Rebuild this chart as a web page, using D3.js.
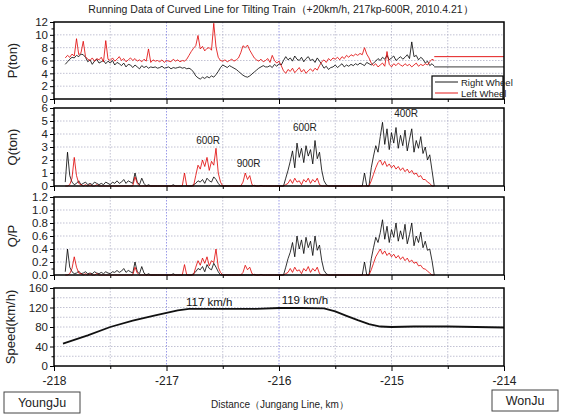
<!DOCTYPE html>
<html lang="en">
<head>
<meta charset="UTF-8">
<title>Running Data of Curved Line for Tilting Train</title>
<script src="https://d3js.org/d3.v7.min.js"></script>
<style>
  body { margin: 0; background: #fff; }
  svg { font-family: "Liberation Sans", Arial, sans-serif; }
  .grid line { stroke: #a8a8c0; stroke-width: 0.7; stroke-dasharray: 1.5 1.5; }
</style>
</head>
<body>
<div id="chart"></div>
<script>
// distance samples: start km and step (km)
const X0 = -217.9;
const STEP = 0.02;

// P(ton)
const pRight = [
  5.4,5.8,6.2,6.5,6.4,6.8,6.6,7.0,6.9,6.5,
  5.8,6.1,5.4,5.9,6.2,5.6,5.8,6.0,5.5,5.9,
  5.6,6.0,5.3,5.7,5.5,5.2,5.6,5.0,5.4,5.3,
  4.9,5.3,5.0,4.7,5.2,4.9,5.1,4.8,5.0,4.9,
  5.0,4.8,4.9,5.1,4.8,4.9,5.0,4.7,4.9,4.8,
  4.9,5.0,4.8,4.9,4.7,4.8,4.6,4.2,3.6,3.3,
  3.1,3.4,3.2,3.5,3.3,3.6,3.4,3.8,4.3,4.9,
  5.3,5.1,4.9,5.2,5.0,4.8,4.6,4.3,4.0,3.7,
  3.5,3.4,3.6,3.9,4.2,4.5,4.8,5.0,5.2,5.0,
  5.0,5.2,4.9,5.4,5.1,5.5,5.3,6.0,6.6,6.1,
  6.4,5.9,6.7,6.2,6.0,6.5,5.8,6.3,6.6,6.0,
  6.2,5.7,6.4,5.9,5.4,4.8,5.1,4.6,4.9,5.0,
  5.3,4.9,5.2,5.5,5.0,5.3,5.1,5.4,5.2,5.5,
  5.3,5.6,5.4,5.2,5.7,5.5,5.3,5.6,5.9,6.3,
  6.0,6.5,6.2,6.8,6.1,6.4,6.7,6.0,6.3,6.6,
  6.2,6.5,6.9,6.3,8.9,6.6,6.8,6.1,6.5,6.2,
  5.6,5.9,5.2,5.5,5.1
];
const pLeft = [
  6.4,6.8,6.5,7.0,6.7,9.4,6.9,7.2,9.0,6.6,
  6.2,6.0,6.4,5.9,6.3,6.1,6.5,5.8,9.1,6.2,
  6.0,6.4,5.9,6.2,6.6,6.0,6.3,5.8,6.1,6.4,
  6.0,6.3,5.9,6.1,5.8,6.2,5.9,7.8,5.7,6.1,
  5.9,6.0,5.8,6.1,5.7,6.0,5.9,5.8,6.2,5.9,
  6.1,5.8,6.0,5.9,6.2,6.8,7.4,7.9,8.3,9.9,
  7.8,8.2,7.5,7.9,8.0,7.6,11.8,8.1,6.5,6.0,
  5.9,6.1,5.8,6.0,6.2,5.9,6.1,6.4,7.2,8.3,
  8.0,8.4,7.6,7.0,6.4,6.1,5.9,6.2,5.8,6.0,
  6.3,5.7,6.8,6.0,5.6,5.9,5.2,4.4,4.0,4.6,
  4.3,4.8,4.1,4.5,4.9,4.2,4.6,4.0,4.4,4.7,
  4.3,4.8,4.5,5.2,5.8,6.1,5.7,6.3,6.0,6.4,
  6.2,6.5,6.1,6.6,6.3,6.8,6.5,6.9,6.7,7.0,
  6.8,7.1,6.9,8.0,7.0,6.4,5.6,5.2,5.5,5.0,
  5.3,5.6,5.1,7.4,5.4,5.0,5.5,5.2,5.6,5.3,
  5.1,5.5,5.2,5.4,5.0,5.3,5.6,5.1,5.4,5.2,
  5.5,5.3,5.8,6.2,6.0
];
// flat tail after the recorded section
const tailKm = [-214.62, -214.0];
const pRightTail = [5.0, 5.0];
const pLeftTail = [6.6, 6.6];

// Q(ton)
const qRight = [
  0.3,2.6,0.8,0.3,0.1,0.2,0.4,0.1,0.2,0.3,
  0.1,0.2,0.1,0.3,0.2,0.1,0.2,0.1,0.3,0.2,
  0.1,0.3,0.2,0.4,0.2,0.3,0.5,0.2,0.4,0.3,
  0.2,1.0,0.3,0.1,0.6,0.2,0,0.1,0,0,
  0,0,0,0,0,0,0,0,0.1,0,
  0,0,0,0,0,0,0,0.1,0.2,0.4,
  0.3,0.5,0.2,0.6,0.4,0.3,0.7,0.5,0.2,0,
  0,0,0,0,0,0,0,0,0,0,
  0,0,0,0,0.05,0,0,0.05,0,0,
  0,0,0,0,0,0,0,0,0.6,1.2,
  1.9,2.7,1.4,3.3,2.2,2.9,1.8,3.1,2.3,2.8,
  1.7,3.5,2.1,2.6,1.2,0.4,0.1,0,0,0,
  0,0,0,0,0,0,0,0,0,0,
  0,0,0,1.0,0,0,1.4,2.3,3.1,2.6,
  3.8,4.9,3.2,4.4,2.8,4.1,3.3,4.5,2.9,3.9,
  3.1,4.3,2.7,3.6,4.4,2.6,3.5,2.9,3.8,2.5,
  3.0,2.0,2.4,1.2,0
];
const qLeft = [
  0,0,0.1,0.6,2.2,0.8,0.2,0.1,0,0.1,
  0,0.1,0,0,0.1,0,0,0,0,0,
  0,0,0,0,0,0,0,0,0,0,
  0,0.7,0.2,0,0,0,0,0,0,0,
  0,0,0,0,0,0,0,0,0,0,
  0,0,0,1.0,0,0,0,0,0.8,1.6,
  1.3,2.0,1.5,2.2,1.2,1.9,1.6,2.9,1.0,0.3,
  0,0,0,0,0,0,0,0,0,0.3,
  1.0,0.5,0.8,0.1,0,0,0,0,0,0,
  0,0,0,0,0,0,0,0,0.1,0.2,
  0.5,0.2,0.6,0.3,0.4,0.1,0.5,0.3,0.6,0.2,
  0.5,0.3,0.6,0.1,0,0,0,0,0,0,
  0,0,0,0,0,0,0,0,0,0,
  0,0,0,0,0,0,0.4,0.9,1.4,1.8,
  2.0,1.6,1.9,1.5,1.7,1.4,1.6,1.3,1.5,1.2,
  1.4,1.1,1.3,1.0,1.2,0.9,1.0,0.7,0.8,0.5,
  0.5,0.3,0.2,0,0
];

// Q/P
const qpRight = [
  0.05,0.40,0.12,0.05,0.02,0.03,0.06,0.02,0.03,0.05,
  0.02,0.03,0.02,0.05,0.03,0.02,0.04,0.02,0.05,0.03,
  0.02,0.05,0.04,0.07,0.04,0.06,0.10,0.04,0.07,0.05,
  0.03,0.20,0.05,0.02,0.13,0.03,0,0.02,0,0,
  0,0,0,0,0,0,0,0,0.02,0,
  0,0,0,0,0,0,0,0.02,0.05,0.10,
  0.08,0.13,0.05,0.16,0.10,0.08,0.18,0.12,0.05,0,
  0,0,0,0,0,0,0,0,0,0,
  0,0,0,0,0.01,0,0,0.01,0,0,
  0,0,0,0,0,0,0,0,0.12,0.25,
  0.35,0.50,0.28,0.60,0.40,0.54,0.33,0.58,0.42,0.52,
  0.30,0.60,0.38,0.46,0.22,0.07,0.02,0,0,0,
  0,0,0,0,0,0,0,0,0,0,
  0,0,0,0.20,0,0,0.25,0.42,0.58,0.50,
  0.65,0.85,0.55,0.75,0.50,0.70,0.58,0.80,0.52,0.68,
  0.55,0.78,0.48,0.62,0.80,0.45,0.60,0.50,0.66,0.42,
  0.52,0.38,0.40,0.22,0
];
const qpLeft = [
  0,0,0.02,0.10,0.28,0.12,0.03,0.02,0,0.02,
  0,0.02,0,0,0.02,0,0,0,0,0,
  0,0,0,0,0,0,0,0,0,0,
  0,0.12,0.03,0,0,0,0,0,0,0,
  0,0,0,0,0,0,0,0,0,0,
  0,0,0,0.16,0,0,0,0,0.12,0.22,
  0.15,0.26,0.18,0.28,0.14,0.22,0.19,0.40,0.12,0.04,
  0,0,0,0,0,0,0,0,0,0.04,
  0.15,0.08,0.12,0.02,0,0,0,0,0,0,
  0,0,0,0,0,0,0,0,0.02,0.04,
  0.10,0.04,0.12,0.06,0.08,0.02,0.10,0.06,0.13,0.04,
  0.10,0.06,0.12,0.02,0,0,0,0,0,0,
  0,0,0,0,0,0,0,0,0,0,
  0,0,0,0,0,0,0.08,0.18,0.28,0.34,
  0.40,0.32,0.37,0.30,0.34,0.28,0.32,0.26,0.30,0.24,
  0.28,0.22,0.26,0.20,0.23,0.18,0.20,0.14,0.15,0.10,
  0.09,0.06,0.03,0,0
];

// Speed(km/h)
const speedKm = [-217.92,-217.7,-217.5,-217.3,-217.1,-217.0,-216.9,-216.8,-216.5,-216.2,-216.0,-215.8,-215.6,-215.5,-215.4,-215.3,-215.2,-215.1,-215.0,-214.8,-214.5,-214.0];
const speed   = [46,63,80,93,104,109,114,117,117,117,119,119,118,112,103,94,86,81,80,81,81,79];

// annotations
const curveLabels = [
  { text: "600R", km: -216.63, q: 3.2 },
  { text: "900R", km: -216.27, q: 1.45 },
  { text: "600R", km: -215.77, q: 4.2 },
  { text: "400R", km: -214.87, q: 5.3 }
];
const speedLabels = [
  { text: "117 km/h", km: -216.62, v: 124 },
  { text: "119 km/h", km: -215.77, v: 127 }
];

const xTicks = [-218, -217, -216, -215, -214];
const xMinor = [-217.5, -216.5, -215.5, -214.5];

const width = 562, height = 416;
const left = 54, right = 504;

const svg = d3.select("#chart").append("svg")
  .attr("width", width)
  .attr("height", height);

const x = d3.scaleLinear().domain([-218, -214]).range([left, right]);
const kmAt = i => X0 + i * STEP;

svg.append("text")
  .attr("x", 281).attr("y", 13)
  .attr("text-anchor", "middle")
  .attr("font-size", 10.5)
  .attr("fill", "#222")
  .text("Running Data of Curved Line for Tilting Train（+20km/h, 217kp-600R, 2010.4.21）");

const panels = [
  { top: 22, bottom: 99, max: 12, major: d3.range(0, 13, 2), minor: d3.range(1, 12, 2), grid: d3.range(2, 12, 2), label: "P(ton)", fmt: d3.format("d") },
  { top: 108, bottom: 186, max: 6, major: d3.range(0, 7, 1), minor: d3.range(0.5, 6, 1), grid: d3.range(1, 6, 1), label: "Q(ton)", fmt: d3.format("d") },
  { top: 197, bottom: 275, max: 1.2, major: [0, 0.2, 0.4, 0.6, 0.8, 1.0, 1.2], minor: [0.1, 0.3, 0.5, 0.7, 0.9, 1.1], grid: [0.2, 0.4, 0.6, 0.8, 1.0], label: "Q/P", fmt: d3.format(".1f") },
  { top: 288, bottom: 366, max: 160, major: [0, 40, 80, 120, 160], minor: [20, 60, 100, 140], grid: [20, 40, 60, 80, 100, 120, 140], label: "Speed(km/h)", fmt: d3.format("d") }
];

panels.forEach(p => {
  p.y = d3.scaleLinear().domain([0, p.max]).range([p.bottom, p.top]);
  const g = svg.append("g");
  p.g = g;

  // grid
  const grid = g.append("g").attr("class", "grid");
  grid.selectAll("line.h").data(p.grid).enter().append("line")
    .attr("x1", left).attr("x2", right)
    .attr("y1", d => p.y(d)).attr("y2", d => p.y(d));
  grid.selectAll("line.v").data(xTicks.slice(1, -1).concat(xMinor)).enter().append("line")
    .attr("x1", d => x(d)).attr("x2", d => x(d))
    .attr("y1", p.top).attr("y2", p.bottom)
    .style("stroke", d => (d === -217 || d === -216) ? "#7070e0" : null);

  // y axis
  const yAxis = g.append("g").attr("transform", `translate(${left},0)`)
    .call(d3.axisLeft(p.y).tickValues(p.major).tickFormat(p.fmt).tickSize(4).tickPadding(2));
  yAxis.select(".domain").remove();
  yAxis.selectAll("text").attr("font-size", 11.5).attr("fill", "#222");
  g.append("g").attr("transform", `translate(${left},0)`)
    .call(d3.axisLeft(p.y).tickValues(p.minor).tickFormat("").tickSize(2.5))
    .select(".domain").remove();

  // x ticks at the bottom of each panel
  const xAxis = g.append("g").attr("transform", `translate(0,${p.bottom})`)
    .call(d3.axisBottom(x).tickValues(xTicks)
      .tickFormat(p.label === "Speed(km/h)" ? d => String(d) : "")
      .tickSize(5).tickPadding(5));
  xAxis.select(".domain").remove();
  xAxis.selectAll("text").attr("font-size", 12).attr("fill", "#222");
  g.append("g").attr("transform", `translate(0,${p.bottom})`)
    .call(d3.axisBottom(x).tickValues(xMinor).tickFormat("").tickSize(3))
    .select(".domain").remove();

  // y label
  g.append("text")
    .attr("transform", `translate(${p.label === "Speed(km/h)" ? 15 : 17},${(p.top + p.bottom) / 2}) rotate(-90)`)
    .attr("text-anchor", "middle")
    .attr("font-size", 13)
    .attr("fill", "#222")
    .text(p.label);
});

function drawSeries(p, values, color, width) {
  const line = d3.line().x((d, i) => x(kmAt(i))).y(d => p.y(d));
  p.g.append("path")
    .attr("d", line(values))
    .attr("fill", "none")
    .attr("stroke", color)
    .attr("stroke-width", width)
    .attr("stroke-linejoin", "round");
}

function drawTail(p, values, color) {
  const line = d3.line().x((d, i) => x(tailKm[i])).y(d => p.y(d));
  p.g.append("path")
    .attr("d", line(values))
    .attr("fill", "none")
    .attr("stroke", color)
    .attr("stroke-width", 0.9);
}

const [pp, qp, qpp, sp] = panels;
drawSeries(pp, pRight, "#000", 0.8);
drawSeries(pp, pLeft, "#e00000", 0.8);
drawTail(pp, pRightTail, "#222");
drawTail(pp, pLeftTail, "#e00000");

drawSeries(qp, qRight, "#000", 0.8);
drawSeries(qp, qLeft, "#e00000", 0.8);

drawSeries(qpp, qpRight, "#000", 0.8);
drawSeries(qpp, qpLeft, "#e00000", 0.8);

// speed line
sp.g.append("path")
  .attr("d", d3.line().x((d, i) => x(speedKm[i])).y(d => sp.y(d))(speed))
  .attr("fill", "none")
  .attr("stroke", "#111")
  .attr("stroke-width", 1.8);

// curve radius labels
qp.g.selectAll("text.curve").data(curveLabels).enter().append("text")
  .attr("x", d => x(d.km)).attr("y", d => qp.y(d.q))
  .attr("text-anchor", "middle")
  .attr("font-size", 10)
  .attr("fill", "#222")
  .text(d => d.text);

sp.g.selectAll("text.spd").data(speedLabels).enter().append("text")
  .attr("x", d => x(d.km)).attr("y", d => sp.y(d.v))
  .attr("text-anchor", "middle")
  .attr("font-size", 11.5)
  .attr("fill", "#111")
  .text(d => d.text);

// panel frames
panels.forEach(p => {
  p.g.append("rect")
    .attr("x", left).attr("y", p.top)
    .attr("width", right - left).attr("height", p.bottom - p.top)
    .attr("fill", "none")
    .attr("stroke", "#000")
    .attr("stroke-width", 1.5);
});

// legend
const lg = pp.g.append("g").attr("transform", "translate(432,76)");
lg.append("rect").attr("width", 71).attr("height", 23)
  .attr("fill", "#fff").attr("stroke", "#000").attr("stroke-width", 1.2);
[["Right Wheel", "#000"], ["Left Wheel", "#e00000"]].forEach((d, i) => {
  lg.append("line").attr("x1", 3).attr("x2", 26)
    .attr("y1", 6 + i * 11).attr("y2", 6 + i * 11)
    .attr("stroke", d[1]).attr("stroke-width", 0.9);
  lg.append("text").attr("x", 29).attr("y", 9.5 + i * 11)
    .attr("font-size", 9.5).attr("fill", "#222").text(d[0]);
});

// bottom labels
svg.append("text")
  .attr("x", 280).attr("y", 408)
  .attr("text-anchor", "middle")
  .attr("font-size", 10)
  .attr("fill", "#222")
  .text("Distance（Jungang Line, km）");

[["YoungJu", 4, 392, 76], ["WonJu", 492, 390, 66]].forEach(d => {
  svg.append("rect").attr("x", d[1]).attr("y", d[2])
    .attr("width", d[3]).attr("height", 21)
    .attr("fill", "#fff").attr("stroke", "#444").attr("stroke-width", 1);
  svg.append("text").attr("x", d[1] + d[3] / 2).attr("y", d[2] + 15)
    .attr("text-anchor", "middle")
    .attr("font-size", 12.5).attr("fill", "#222").text(d[0]);
});
</script>
</body>
</html>
